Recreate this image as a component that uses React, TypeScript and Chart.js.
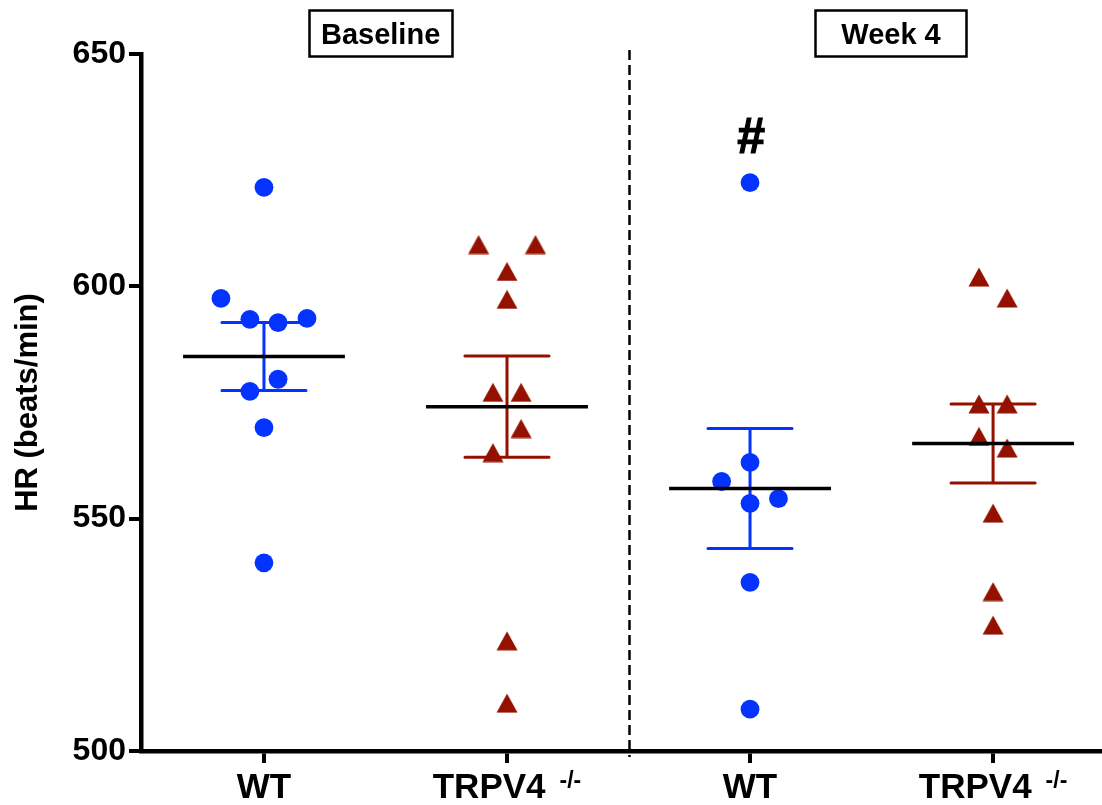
import React, { useEffect, useRef } from 'react';
import { Chart, registerables } from 'chart.js';

Chart.register(...registerables);

// ---------- data ----------
const groupNames = ['WT', 'TRPV4', 'WT', 'TRPV4'];
const groupSuperscripts = ['', '-/-', '', '-/-'];
const periodLabels = ['Baseline', 'Week 4'];
const yTickValues = [500, 550, 600, 650];
const yTitle = 'HR (beats/min)';
const significanceMark = '#';

const baselineWT = [621.3, 597.4, 592.9, 592.2, 593.1, 580.0, 577.4, 569.6, 540.5];
const baselineWTJitter = [0, -0.177, -0.058, 0.058, 0.177, 0.058, -0.058, 0, 0];

const baselineKO = [609.0, 609.0, 603.2, 597.2, 577.2, 577.2, 569.4, 564.2, 523.7, 510.3];
const baselineKOJitter = [-0.117, 0.117, 0, 0, -0.058, 0.058, 0.058, -0.058, 0, 0];

const week4WT = [622.3, 562.1, 558.0, 554.3, 553.3, 536.3, 509.0];
const week4WTJitter = [0, 0, -0.117, 0.117, 0, 0, 0];

const week4KO = [602.0, 597.5, 574.7, 574.7, 567.7, 565.2, 551.2, 534.3, 527.1];
const week4KOJitter = [-0.058, 0.058, -0.058, 0.058, -0.058, 0.058, 0, 0, 0];

const groupMeans = [584.9, 574.1, 556.5, 566.2];
const groupSEM = [7.3, 10.9, 12.9, 8.5];

// ---------- styling ----------
const FONT = '"Liberation Sans", Arial, Helvetica, sans-serif';
const BLUE = '#0433FF';
const RED = '#941100';

function makeTriangle(color: string): HTMLCanvasElement {
  const c = document.createElement('canvas');
  c.width = 22;
  c.height = 20;
  const g = c.getContext('2d')!;
  g.fillStyle = color;
  g.beginPath();
  g.moveTo(11, 0.5);
  g.lineTo(21.5, 19.5);
  g.lineTo(0.5, 19.5);
  g.closePath();
  g.fill();
  return c;
}

const toPoints = (vals: number[], jit: number[], idx: number) =>
  vals.map((v, i) => ({ x: idx + jit[i], y: v }));

const overlayPlugin = {
  id: 'overlayPlugin',
  beforeDatasetsDraw(chart: any) {
    const { ctx, chartArea } = chart;
    const x = chart.scales.x;
    const y = chart.scales.y;
    ctx.save();
    // dashed divider
    const xd = Math.round(x.getPixelForValue(1.5)) + 0.5;
    ctx.strokeStyle = '#000';
    ctx.lineWidth = 2.5;
    ctx.setLineDash([10, 5]);
    ctx.beginPath();
    ctx.moveTo(xd, chartArea.top - 4);
    ctx.lineTo(xd, chartArea.bottom + 6);
    ctx.stroke();
    ctx.setLineDash([]);
    // error bars
    groupMeans.forEach((m, i) => {
      const col = i % 2 === 0 ? BLUE : RED;
      const xc = x.getPixelForValue(i);
      const hw = x.getPixelForValue(i + 0.173) - xc;
      const yt = y.getPixelForValue(m + groupSEM[i]);
      const yb = y.getPixelForValue(m - groupSEM[i]);
      ctx.strokeStyle = col;
      ctx.lineWidth = 3;
      ctx.lineCap = 'round';
      ctx.beginPath();
      ctx.moveTo(xc, yt);
      ctx.lineTo(xc, yb);
      ctx.moveTo(xc - hw, yt);
      ctx.lineTo(xc + hw, yt);
      ctx.moveTo(xc - hw, yb);
      ctx.lineTo(xc + hw, yb);
      ctx.stroke();
    });
    ctx.restore();
  },
  afterDatasetsDraw(chart: any) {
    const { ctx } = chart;
    const x = chart.scales.x;
    const y = chart.scales.y;
    ctx.save();
    // mean lines
    groupMeans.forEach((m, i) => {
      const xc = x.getPixelForValue(i);
      const hw = x.getPixelForValue(i + 0.333) - xc;
      const ym = y.getPixelForValue(m);
      ctx.strokeStyle = '#000';
      ctx.lineWidth = 3.5;
      ctx.beginPath();
      ctx.moveTo(xc - hw, ym);
      ctx.lineTo(xc + hw, ym);
      ctx.stroke();
    });
    // significance mark
    ctx.fillStyle = '#000';
    ctx.strokeStyle = '#000';
    ctx.lineWidth = 1.2;
    ctx.font = `bold 50px ${FONT}`;
    ctx.textAlign = 'center';
    ctx.textBaseline = 'alphabetic';
    const hx = x.getPixelForValue(2) + 1;
    const hy = y.getPixelForValue(Math.max(...week4WT)) - 30;
    ctx.fillText(significanceMark, hx, hy);
    ctx.strokeText(significanceMark, hx, hy);
    ctx.restore();
  },
  afterDraw(chart: any) {
    const { ctx } = chart;
    const x = chart.scales.x;
    ctx.save();
    ctx.fillStyle = '#000';
    ctx.textBaseline = 'alphabetic';
    // x category labels
    groupNames.forEach((g, i) => {
      const xc = x.getPixelForValue(i);
      ctx.font = `bold 35px ${FONT}`;
      const sup = groupSuperscripts[i];
      if (!sup) {
        ctx.textAlign = 'center';
        ctx.fillText(g, xc, 798);
      } else {
        const w = ctx.measureText(g).width;
        ctx.font = `bold 23px ${FONT}`;
        const ws = ctx.measureText(sup).width;
        const gap = 14;
        const start = xc - (w + gap + ws) / 2;
        ctx.textAlign = 'left';
        ctx.font = `bold 35px ${FONT}`;
        ctx.fillText(g, start, 798);
        ctx.font = `bold 23px ${FONT}`;
        ctx.fillText(sup, start + w + gap, 788);
      }
    });
    // period header boxes
    const boxCenters = [0.48, 2.58];
    const boxWidths = [143, 151];
    periodLabels.forEach((p, i) => {
      const cx = x.getPixelForValue(boxCenters[i]);
      const bw = boxWidths[i];
      ctx.strokeStyle = '#000';
      ctx.lineWidth = 2.5;
      ctx.strokeRect(Math.round(cx - bw / 2) + 0.5, 10.5, bw, 46);
      ctx.font = `bold 29px ${FONT}`;
      ctx.textAlign = 'center';
      ctx.fillText(p, cx, 44);
    });
    ctx.restore();
  },
};

export default function App() {
  const ref = useRef<HTMLCanvasElement>(null);
  useEffect(() => {
    const tri = makeTriangle(RED);
    const chart = new Chart(ref.current!, {
      type: 'scatter',
      data: {
        datasets: [
          {
            label: 'Baseline WT',
            data: toPoints(baselineWT, baselineWTJitter, 0),
            pointStyle: 'circle',
            pointRadius: 9.4,
            backgroundColor: BLUE,
            borderColor: BLUE,
            borderWidth: 0,
          },
          {
            label: 'Baseline TRPV4-/-',
            data: toPoints(baselineKO, baselineKOJitter, 1),
            pointStyle: tri,
            pointRadius: 10,
            backgroundColor: RED,
            borderColor: RED,
          },
          {
            label: 'Week 4 WT',
            data: toPoints(week4WT, week4WTJitter, 2),
            pointStyle: 'circle',
            pointRadius: 9.4,
            backgroundColor: BLUE,
            borderColor: BLUE,
            borderWidth: 0,
          },
          {
            label: 'Week 4 TRPV4-/-',
            data: toPoints(week4KO, week4KOJitter, 3),
            pointStyle: tri,
            pointRadius: 10,
            backgroundColor: RED,
            borderColor: RED,
          },
        ],
      } as any,
      options: {
        animation: false,
        responsive: false,
        maintainAspectRatio: false,
        layout: { autoPadding: false, padding: { top: 54, right: 2, left: 0, bottom: 0 } },
        plugins: {
          legend: { display: false },
          tooltip: { enabled: false },
        },
        scales: {
          x: {
            type: 'linear',
            min: -0.506,
            max: 3.44,
            afterBuildTicks: (s: any) => {
              s.ticks = [0, 1, 2, 3].map((v) => ({ value: v }));
            },
            afterFit: (s: any) => {
              s.height = 54;
            },
            ticks: { display: false },
            grid: {
              drawOnChartArea: false,
              drawTicks: true,
              tickLength: 12,
              color: '#000',
              lineWidth: 4,
            },
            border: { display: true, color: '#000', width: 4.5 },
          },
          y: {
            type: 'linear',
            min: 500,
            max: 650,
            afterBuildTicks: (s: any) => {
              s.ticks = yTickValues.map((v) => ({ value: v }));
            },
            afterFit: (s: any) => {
              s.width = 141;
            },
            ticks: {
              color: '#000',
              font: { family: FONT, size: 32, weight: 'bold' },
              padding: 3,
            },
            grid: {
              drawOnChartArea: false,
              drawTicks: true,
              tickLength: 12,
              color: '#000',
              lineWidth: 4,
            },
            border: { display: true, color: '#000', width: 4.5 },
            title: {
              display: true,
              text: yTitle,
              color: '#000',
              font: { family: FONT, size: 31, weight: 'bold' },
              padding: { top: 10, bottom: 0 },
            },
          },
        },
      } as any,
      plugins: [overlayPlugin],
    });
    return () => chart.destroy();
  }, []);
  return (
    <div style={{ position: 'fixed', left: 0, top: 0, width: 1102, height: 805, background: '#fff' }}>
      <canvas ref={ref} width={1102} height={805} style={{ width: 1102, height: 805, display: 'block' }} />
    </div>
  );
}
